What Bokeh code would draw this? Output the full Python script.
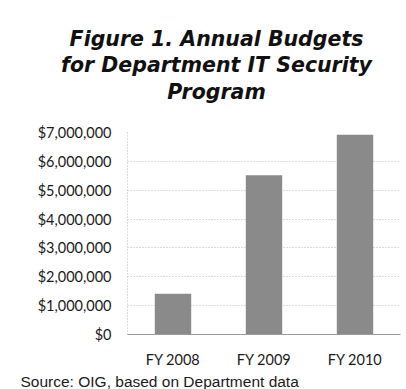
from bokeh.plotting import figure
from bokeh.layouts import column
from bokeh.models import Label, Title, NumeralTickFormatter, Range1d, FixedTicker
from bokeh.embed import file_html
from bokeh.resources import INLINE

categories = ["FY 2008", "FY 2009", "FY 2010"]
budgets = [1410000, 5520000, 6920000]
y_ticks = [0, 1000000, 2000000, 3000000, 4000000, 5000000, 6000000, 7000000]
title_lines = ["Figure 1. Annual Budgets", "for Department IT Security", "Program"]
source_text = "Source: OIG, based on Department data"

W = 406

# --- title block ---
top = figure(width=W, height=120, x_range=Range1d(0, W), y_range=Range1d(120, 0),
             output_backend="svg", toolbar_location=None, frame_align=False,
             min_border=0, min_border_left=0, min_border_right=0,
             min_border_top=0, min_border_bottom=0)
top.axis.visible = False
top.grid.visible = False
top.outline_line_color = None
for line, yb in zip(title_lines, [38, 64.5, 91]):
    top.add_layout(Label(x=216, y=yb, text=line, text_align="center",
                         text_baseline="alphabetic", text_font="DejaVu Sans",
                         text_font_style="bold italic", text_font_size="20.5px",
                         text_color="#111111"))

# --- chart ---
p = figure(width=W, height=269, x_range=categories, y_range=Range1d(0, 7000000),
           output_backend="svg", toolbar_location=None, frame_align=False,
           min_border_left=127, min_border_right=6, min_border_top=12, min_border_bottom=40)
p.outline_line_color = None
p.background_fill_color = "white"
p.border_fill_color = "white"

p.vbar(x=categories, top=budgets, width=0.4, fill_color="#8a8a8a", line_color=None)

p.xgrid.grid_line_color = None
p.ygrid.grid_line_color = "#b8b8b8"
p.ygrid.grid_line_dash = "1 2"
p.ygrid.grid_line_width = 1

p.yaxis.ticker = FixedTicker(ticks=y_ticks)
p.yaxis.formatter = NumeralTickFormatter(format="$0,0")
p.yaxis.axis_line_color = "#b8b8b8"
p.yaxis.axis_line_dash = "1 2"
p.yaxis.major_tick_line_color = None
p.yaxis.minor_tick_line_color = None
p.yaxis.major_tick_out = 0
p.yaxis.major_label_standoff = 16
p.yaxis.major_label_text_font = "Lato"
p.yaxis.major_label_text_font_size = "14.5px"
p.yaxis.major_label_text_color = "#1a1a1a"

p.xaxis.axis_line_color = "#9a9a9a"
p.xaxis.major_tick_line_color = None
p.xaxis.major_tick_out = 0
p.xaxis.major_label_standoff = 16
p.xaxis.major_label_text_font = "Lato"
p.xaxis.major_label_text_font_size = "14.5px"
p.xaxis.major_label_text_color = "#1a1a1a"

p.add_layout(Title(text=source_text, align="left", offset=-107,
                   text_font="Liberation Sans", text_font_style="normal",
                   text_font_size="15.5px", text_color="#1a1a1a", standoff=0), "below")

layout = column(top, p, spacing=0)
open("out.html", "w").write(file_html(layout, INLINE))
